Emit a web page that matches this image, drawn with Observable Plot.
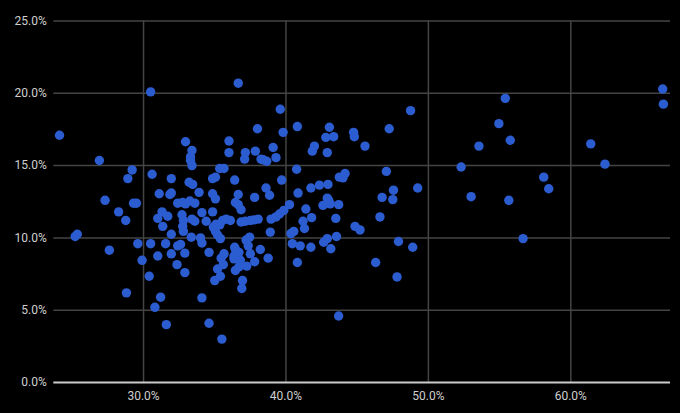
<!DOCTYPE html>
<html>
<head>
<meta charset="utf-8">
<script src="https://cdn.jsdelivr.net/npm/d3@7"></script>
<script src="https://cdn.jsdelivr.net/npm/@observablehq/plot@0.6"></script>
<style>
  html, body { margin: 0; padding: 0; background: #000; }
  #chart { width: 680px; height: 413px; overflow: hidden; }
</style>
</head>
<body>
<div id="chart"></div>
<script>
// Values in percent
const xValues = [
  24.1, 25.2, 25.35, 26.9, 27.3, 27.6, 28.25, 28.75, 28.8, 28.9,
  29.2, 29.3, 29.5, 29.6, 29.9, 30.5, 30.5, 30.6, 30.4, 30.8,
  31.2, 31.0, 31.6, 31.1, 31.85, 31.95, 31.95, 31.55, 31.0, 31.3,
  31.7, 31.35, 31.95, 31.95, 32.35, 32.4, 32.6, 32.9, 32.9, 32.95,
  33.4, 33.3, 33.3, 33.4, 33.2, 33.45, 33.9, 32.4, 32.75, 32.95,
  33.25, 33.6, 32.7, 32.8, 32.75, 32.8, 33.4, 33.6, 34.1, 33.35,
  34.0, 34.1, 34.6, 34.4, 34.85, 34.1, 34.6, 35.5, 35.0, 35.4,
  35.2, 35.6, 35.45, 35.65, 34.9, 35.05, 35.2, 35.4, 35.35, 35.1,
  35.55, 35.8, 36.1, 36.4, 36.45, 36.6, 36.35, 36.7, 36.35, 36.8,
  36.45, 36.7, 36.95, 36.9, 37.25, 37.8, 37.5, 38.2, 38.75, 37.2,
  37.45, 37.35, 36.85, 37.15, 37.5, 37.75, 38.05, 36.85, 38.9, 38.95,
  39.3, 39.55, 39.85, 40.25, 40.35, 40.55, 40.45, 41.0, 40.8, 41.75,
  41.2, 41.3, 41.8, 41.4, 42.65, 42.9, 43.15, 43.55, 43.5, 42.6,
  43.1, 34.85, 35.05, 34.85, 35.05, 35.35, 35.65, 36.0, 36.0, 36.4,
  36.65, 36.45, 36.65, 36.65, 37.15, 37.1, 38.0, 37.85, 37.8, 38.25,
  38.4, 38.65, 38.6, 38.85, 39.1, 39.3, 39.6, 39.8, 39.7, 40.75,
  40.8, 40.85, 41.75, 41.85, 42.0, 42.35, 42.95, 42.9, 42.8, 43.35,
  43.05, 42.9, 43.0, 43.7, 43.75, 44.75, 44.8, 45.55, 47.25, 48.75,
  44.15, 44.0, 47.05, 47.55, 46.75, 47.5, 49.25, 52.3, 53.0, 53.55,
  54.95, 55.4, 55.75, 55.65, 58.1, 58.45, 61.4, 62.4, 66.45, 66.5,
  46.6, 44.85, 45.2, 47.9, 48.9, 46.3, 47.8, 56.65, 43.7
];
const yValues = [
  17.1, 10.1, 10.25, 15.35, 12.6, 9.15, 11.8, 11.2, 6.2, 14.1,
  14.7, 12.4, 12.4, 9.6, 8.45, 9.6, 20.1, 14.4, 7.35, 5.2,
  5.9, 8.75, 4.0, 13.05, 13.0, 13.1, 14.1, 9.6, 11.35, 11.8,
  11.5, 10.8, 10.25, 8.9, 8.15, 9.45, 9.55, 7.6, 8.95, 16.65,
  16.05, 15.6, 15.35, 15.0, 13.85, 13.7, 13.15, 12.4, 12.45, 12.35,
  12.55, 12.4, 11.6, 11.2, 10.8, 10.45, 11.3, 11.15, 11.75, 10.05,
  10.0, 9.65, 9.0, 11.15, 11.8, 5.85, 4.1, 3.0, 7.05, 7.35,
  7.85, 8.15, 8.6, 8.9, 10.75, 10.45, 10.2, 9.95, 10.9, 10.95,
  11.2, 11.3, 11.2, 9.35, 9.2, 8.9, 8.75, 9.0, 8.55, 8.45,
  7.75, 8.0, 7.05, 6.5, 8.05, 8.35, 8.9, 9.2, 8.6, 9.85,
  10.05, 9.45, 11.1, 11.15, 11.2, 11.25, 11.3, 11.95, 10.4, 11.3,
  11.45, 11.65, 11.9, 12.3, 10.3, 10.45, 9.6, 9.45, 8.3, 9.35,
  11.15, 10.65, 11.4, 12.0, 9.7, 9.95, 9.25, 10.1, 11.35, 12.25,
  12.35, 13.05, 12.7, 14.1, 14.2, 14.8, 14.8, 16.7, 15.9, 14.0,
  13.0, 12.45, 12.3, 20.7, 15.9, 15.45, 17.55, 16.0, 12.8, 15.45,
  15.4, 15.3, 13.45, 12.95, 16.25, 15.55, 18.9, 17.3, 14.0, 14.75,
  17.7, 13.1, 13.45, 16.0, 16.35, 13.65, 13.7, 15.9, 16.95, 17.0,
  17.65, 12.75, 12.6, 12.3, 14.2, 17.3, 17.0, 16.35, 17.55, 18.8,
  14.45, 14.15, 14.6, 13.3, 12.8, 12.65, 13.45, 14.9, 12.85, 16.35,
  17.9, 19.65, 16.75, 12.6, 14.2, 13.4, 16.5, 15.1, 20.3, 19.25,
  11.45, 10.8, 10.55, 9.75, 9.35, 8.3, 7.3, 9.95, 4.6
];
const xTicks = [30, 40, 50, 60];
const yTicks = [0, 5, 10, 15, 20, 25];

const points = xValues.map((x, i) => ({x, y: yValues[i]}));
const fmt = d => d.toFixed(1) + "%";

const chart = Plot.plot({
  width: 680,
  height: 413,
  marginLeft: 53.3,
  marginRight: 10,
  marginTop: 20.5,
  marginBottom: 31,
  style: {background: "#000", color: "#cfcfcf", fontFamily: "Roboto, Arial, sans-serif", fontSize: "12px"},
  x: {domain: [23.7, 67], label: null},
  y: {domain: [0, 25], label: null},
  marks: [
    Plot.gridX(xTicks, {stroke: "#444", strokeOpacity: 1, strokeWidth: 1.5}),
    Plot.gridY(yTicks.filter(d => d > 0), {stroke: "#444", strokeOpacity: 1, strokeWidth: 1.5}),
    Plot.ruleY([0], {stroke: "#cccccc", strokeWidth: 2.2}),
    Plot.axisX(xTicks, {tickSize: 0, tickPadding: 9, tickFormat: fmt, label: null, fill: "#cfcfcf"}),
    Plot.axisY(yTicks, {tickSize: 0, tickPadding: 7, tickFormat: fmt, label: null, fill: "#cfcfcf"}),
    Plot.dot(points, {x: "x", y: "y", r: 4.7, fill: "#2b5cd0", stroke: "none"})
  ]
});
document.getElementById("chart").appendChild(chart);
</script>
</body>
</html>
